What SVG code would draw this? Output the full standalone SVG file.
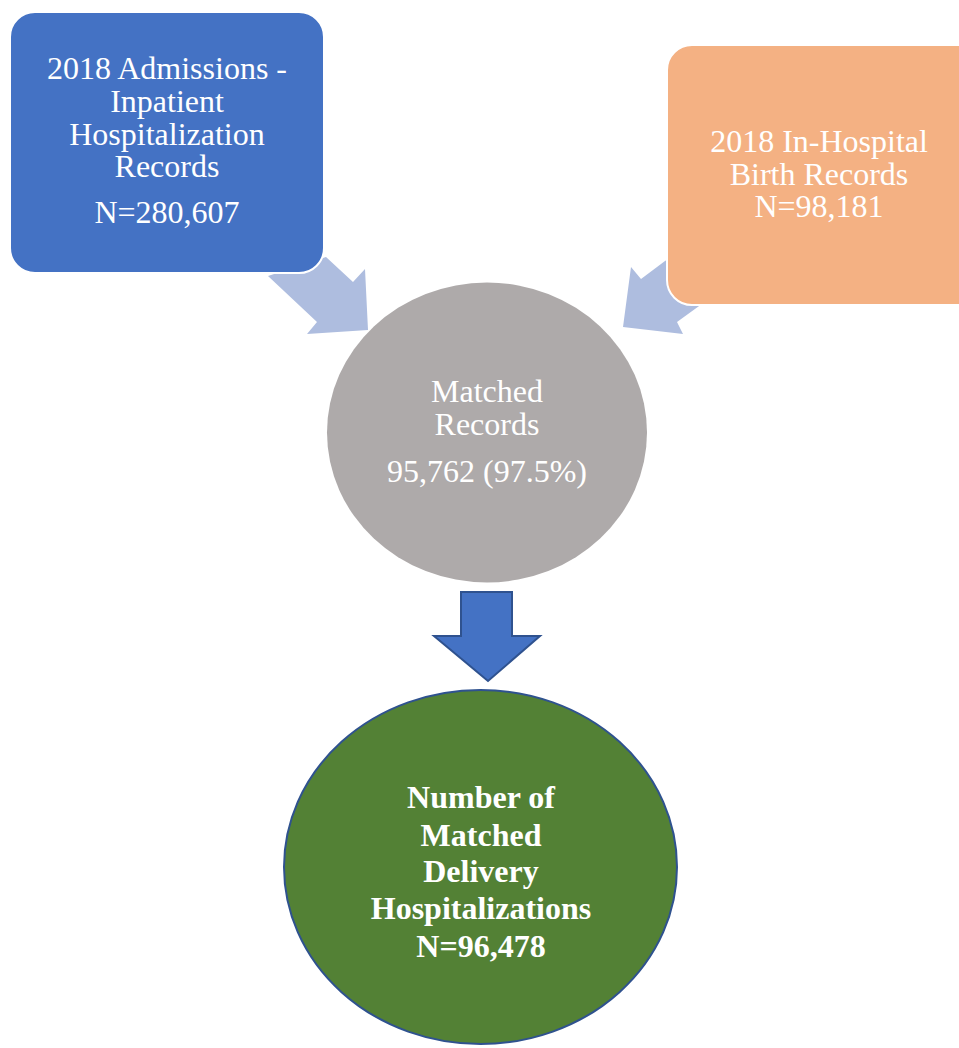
<svg xmlns="http://www.w3.org/2000/svg" width="959" height="1048" viewBox="0 0 959 1048">
<style>
.t{font-family:"Liberation Serif","Times New Roman",serif;font-size:32px;fill:#ffffff;text-anchor:middle}
.b{font-weight:bold}
.side{fill:#AEBDDF;stroke:none}
.box{stroke:#ffffff;stroke-width:2}
</style>
<rect width="959" height="1048" fill="#ffffff"/>
<g id="connectors">
<polygon class="side" points="268,276 326,257 353,282 365,269 368,330 307,334 317,322"/>
<polygon class="side" points="720,230 665,261 641,279 631,267 623,327 683,334 677,322 735,280"/>
<polygon points="461,592 512,592 512,636 540,636 488,681 434,636 461,636" fill="#4472C4" stroke="#2F528F" stroke-width="2"/>
</g>
<g id="admissions">
<rect class="box" x="10" y="12" width="314" height="261" rx="25" fill="#4472C4"/>
<text class="t" x="167" y="79">2018 Admissions -</text>
<text class="t" x="167" y="112">Inpatient</text>
<text class="t" x="167" y="145">Hospitalization</text>
<text class="t" x="167" y="177">Records</text>
<text class="t" x="167" y="223">N=280,607</text>
</g>
<g id="births">
<rect class="box" x="667" y="45" width="318" height="260" rx="25" fill="#F4B183"/>
<text class="t" x="819" y="152">2018 In-Hospital</text>
<text class="t" x="819" y="185">Birth Records</text>
<text class="t" x="819" y="217">N=98,181</text>
</g>
<g id="matched">
<ellipse cx="487" cy="432.5" rx="160" ry="150" fill="#AEAAAA"/>
<text class="t" x="487" y="402">Matched</text>
<text class="t" x="487" y="435">Records</text>
<text class="t" x="487" y="482">95,762 (97.5%)</text>
</g>
<g id="delivery">
<ellipse cx="480.5" cy="867" rx="196.5" ry="177" fill="#538135" stroke="#2F528F" stroke-width="2"/>
<text class="t b" x="481" y="808">Number of</text>
<text class="t b" x="481" y="846">Matched</text>
<text class="t b" x="481" y="882">Delivery</text>
<text class="t b" x="481" y="919">Hospitalizations</text>
<text class="t b" x="481" y="957">N=96,478</text>
</g>
</svg>
